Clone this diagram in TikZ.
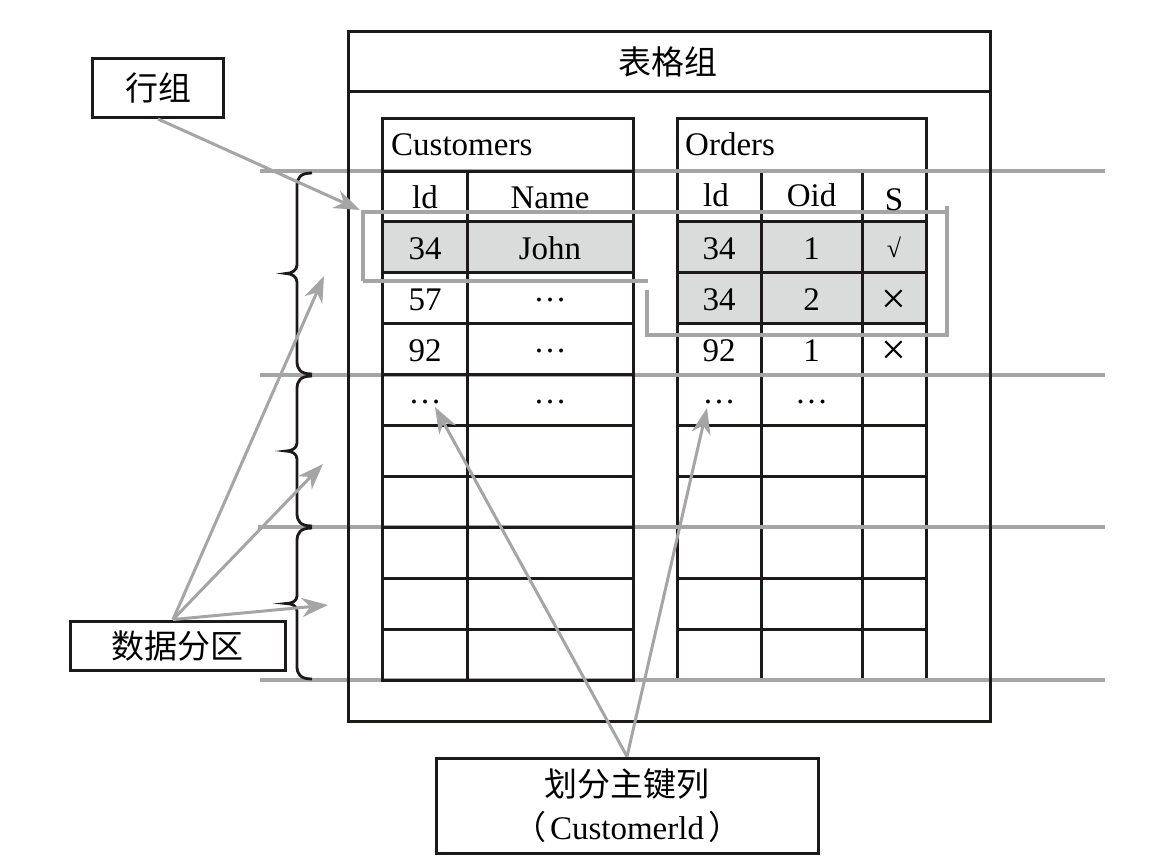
\documentclass[tikz,border=0pt]{standalone}
\usepackage{fontspec}
\setmainfont{Liberation Serif}
\newfontfamily\cjk{Noto Sans CJK SC}
\usetikzlibrary{arrows.meta}
\definecolor{lg}{RGB}{165,165,165}
\definecolor{sh}{RGB}{218,219,219}
\definecolor{bk}{RGB}{30,25,25}
\newcommand{\mydots}{\raisebox{9pt}{…}}
\begin{document}
\begin{tikzpicture}[x=1pt,y=-1pt,
  blk/.style={line width=3pt, bk},
  gl/.style={line width=3.5pt, lg},
  garrow/.style={line width=3pt, lg, -{Stealth[length=26pt,width=19pt,inset=8pt]}},
  box/.style={draw=bk, line width=3pt, inner sep=0pt, fill=white},
  cn/.style={font=\cjk\fontsize{33}{40}\selectfont},
  tt/.style={font=\fontsize{33}{33}\selectfont, anchor=base, inner sep=0pt},
  ttw/.style={font=\fontsize{33}{33}\selectfont, anchor=base west, inner sep=0pt},
  xx/.style={font=\fontsize{44}{44}\selectfont, anchor=base, inner sep=0pt},
]
\useasboundingbox (0,0) rectangle (1155,863);
% shading
\fill[sh] (382,222) rectangle (633,273);
\fill[sh] (677,222) rectangle (926,324);
% Orders table
\draw[blk] (677,118) rectangle (926,680);
\draw[blk] (761,171) -- (761,680);
\draw[blk] (862,171) -- (862,680);
\foreach \i in {0,...,10} {
  \pgfmathsetmacro{\yy}{171+50.9*\i}
  \draw[blk] (677,\yy) -- (926,\yy);
}
% gray partition lines
\draw[gl] (260,171) -- (1105,171);
\draw[gl] (260,375) -- (1105,375);
\draw[gl] (258,527) -- (1105,527);
\draw[gl] (260,680) -- (1105,680);
% Customers table
\draw[blk] (382,118) rectangle (633,680);
\draw[blk] (467,171) -- (467,680);
\foreach \i in {0,...,10} {
  \pgfmathsetmacro{\yy}{171+50.9*\i}
  \draw[blk] (382,\yy) -- (633,\yy);
}
% outer box
\draw[blk] (348,31) rectangle (990,721);
\draw[blk] (348,91) -- (990,91);
\node[cn] (title) at (668,62) {表格组};
% row group outline
\draw[gl] (363,281) -- (363,212) -- (947,212);
\draw[gl] (947,206) -- (947,335) -- (647,335) -- (647,290);
\draw[gl] (363,281) -- (648,281);
% braces
\draw[blk, line width=2.8pt] (312,173) .. controls (300,173) and (297,178) .. (297,186) -- (297,265) .. controls (297,270) and (292,273.5) .. (286,273.5) .. controls (292,273.5) and (297,277) .. (297,282) -- (297,361) .. controls (297,369) and (300,374) .. (312,374);
\draw[blk, line width=2.8pt] (312,376) .. controls (300,376) and (297,381) .. (297,389) -- (297,443) .. controls (297,448) and (292,451) .. (286,451) .. controls (292,451) and (297,454) .. (297,459) -- (297,513) .. controls (297,521) and (300,526) .. (312,526);
\draw[blk, line width=2.8pt] (312,528) .. controls (300,528) and (297,533) .. (297,541) -- (297,596) .. controls (297,601) and (292,603.5) .. (286,603.5) .. controls (292,603.5) and (297,606) .. (297,611) -- (297,666) .. controls (297,674) and (300,679) .. (312,679);
% label boxes
\node[box, cn, minimum width=131pt, minimum height=59pt] (hz) at (158,88) {行组};
\node[box, cn, minimum width=215pt, minimum height=49pt] (sj) at (177.5,645.5) {数据分区};
\node[box, minimum width=382pt, minimum height=95pt, align=center, font=\fontsize{33}{43}\selectfont] (hf) at (627,805.5) {{\cjk 划分主键列}\\{\cjk （}\kern4pt Customerld\kern4pt{\cjk ）}};
% targets
\coordinate (trg) at (360,210);
\coordinate (p1) at (324,276);
\coordinate (p2) at (323,464);
\coordinate (p3) at (328,605);
\coordinate (k1) at (435,407);
\coordinate (k2) at (707,408);
\coordinate (sjo) at ([xshift=-4.5pt]sj.north);
% arrows
\draw[garrow] (hz.south) -- (trg);
\draw[garrow] (sjo) -- (p1);
\draw[garrow] (sjo) -- (p2);
\draw[garrow] (sjo) -- (p3);
\draw[garrow] (hf.north) -- (k1);
\draw[garrow] (hf.north) -- (k2);
% table texts
\node[ttw] (ch) at (391,155) {Customers};
\node[ttw] (oh) at (685,155) {Orders};
\node[tt] (c11) at (425,208) {ld};
\node[tt] (c12) at (550,208) {Name};
\node[tt] (c21) at (425,259) {34};
\node[tt] (c22) at (550,259) {John};
\node[tt] (c31) at (425,310) {57};
\node[tt] (c32) at (550,310) {\mydots};
\node[tt] (c41) at (425,361) {92};
\node[tt] (c42) at (550,361) {\mydots};
\node[tt] (c51) at (425,412) {\mydots};
\node[tt] (c52) at (550,412) {\mydots};
\node[tt] (o11) at (716,206) {ld};
\node[tt] (o12) at (811.5,206) {Oid};
\node[tt] (o13) at (894,210) {S};
\node[tt] (o21) at (719,259) {34};
\node[tt] (o22) at (811.5,259) {1};
\node[tt] (o23) at (894,257) {\fontsize{26}{26}\selectfont √};
\node[xx] (o33) at (894,313) {×};
\node[tt] (o31) at (719,310) {34};
\node[tt] (o32) at (811.5,310) {2};
\node[tt] (o41) at (719,361) {92};
\node[tt] (o42) at (811.5,361) {1};
\node[xx] (o43) at (894,364) {×};
\node[tt] (o51) at (719,412) {\mydots};
\node[tt] (o52) at (811.5,412) {\mydots};
\end{tikzpicture}
\end{document}
